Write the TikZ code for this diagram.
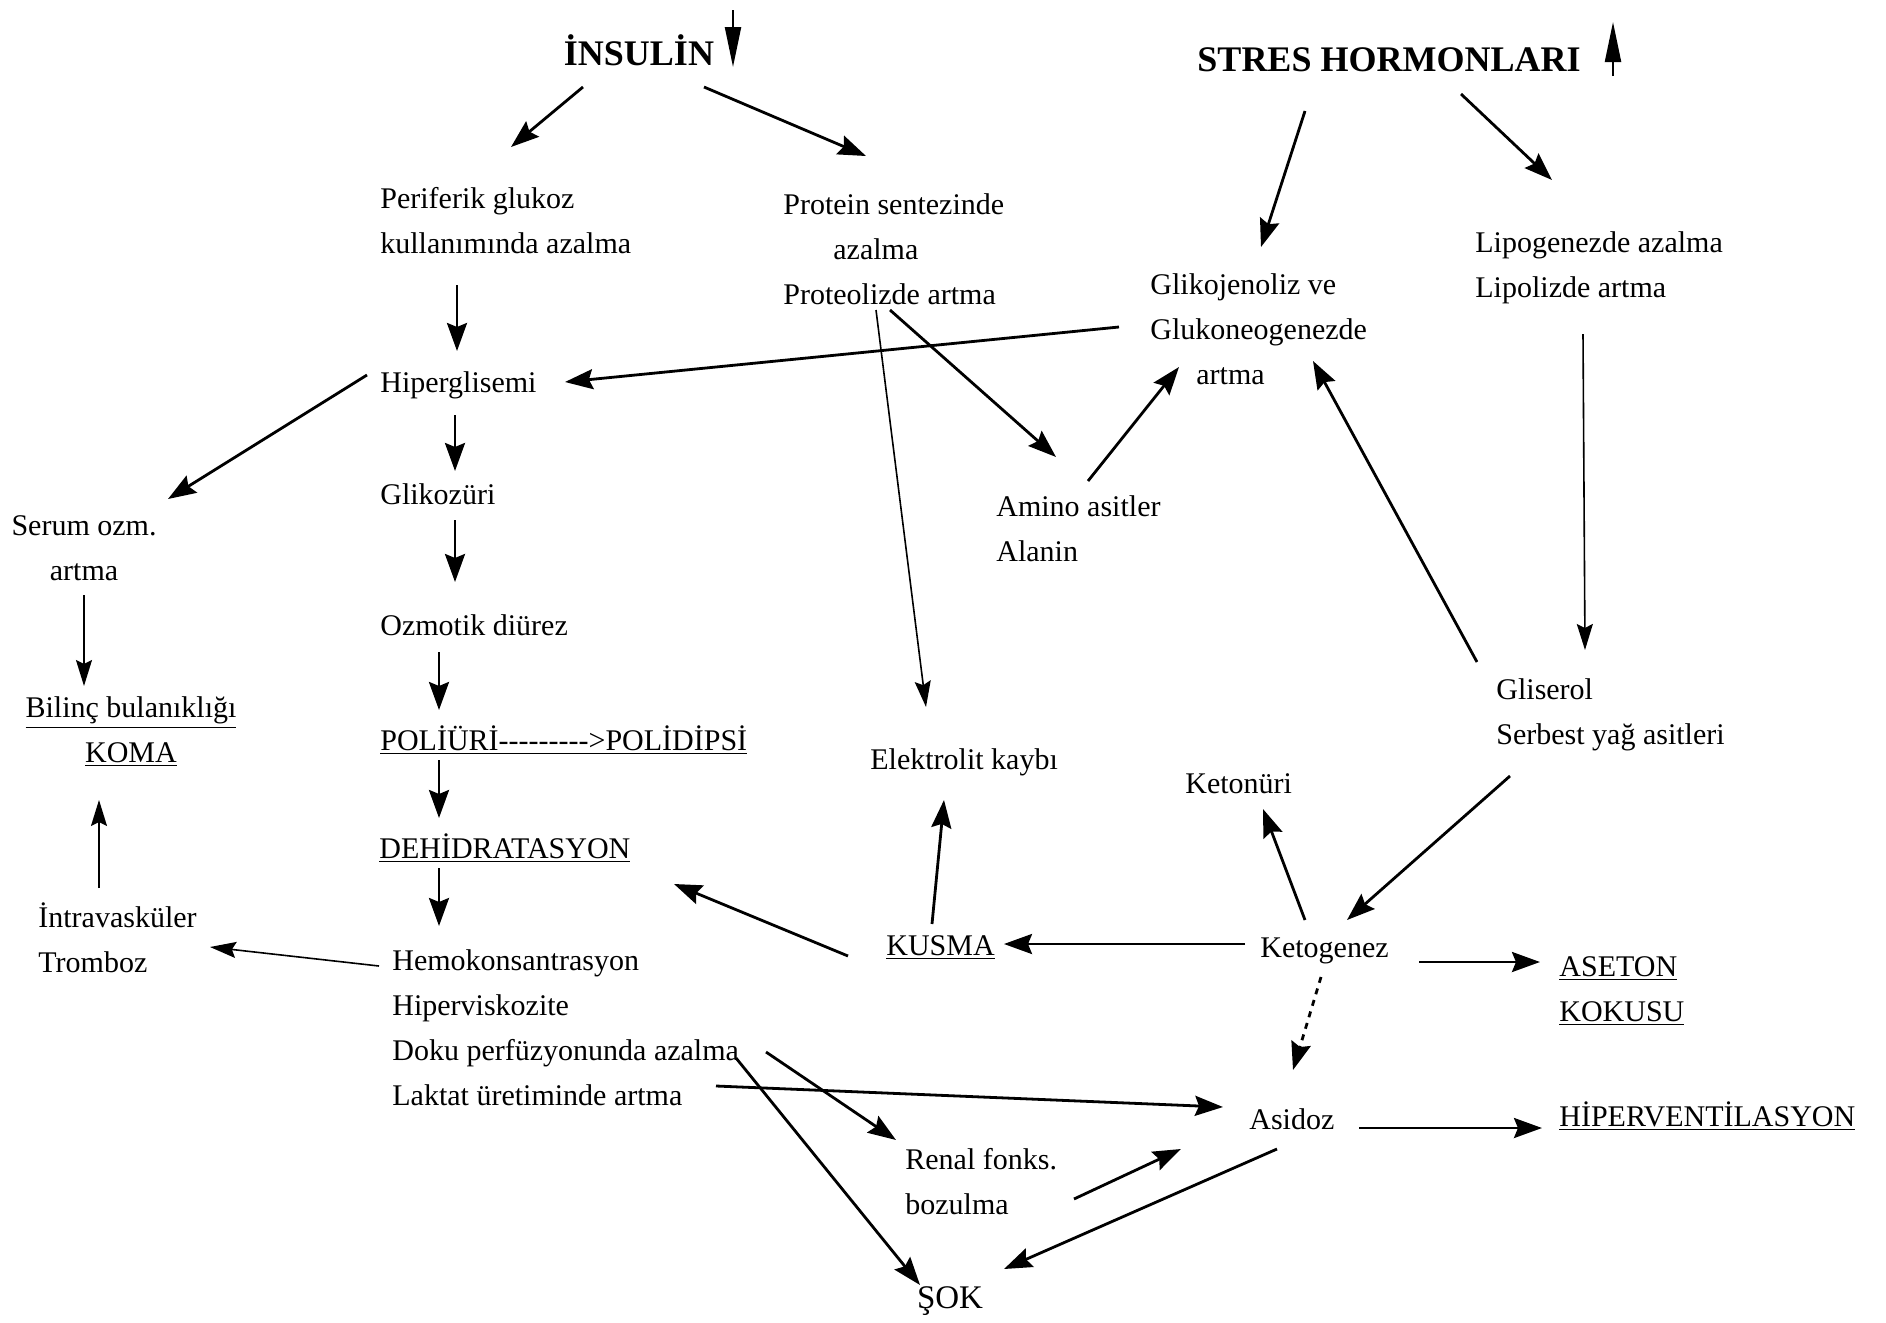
\documentclass[tikz,border=0pt]{standalone}
\usepackage{fontspec}
\setmainfont{Liberation Serif}
\usetikzlibrary{arrows.meta,calc}
\begin{document}
\begin{tikzpicture}[x=0.5pt,y=-0.5pt,
 txt/.style={inner sep=0pt, font=\fontsize{15}{22.5}\selectfont, align=left, anchor=west},
 ctxt/.style={inner sep=0pt, font=\fontsize{15}{22.5}\selectfont, align=center},
 head/.style={inner sep=0pt, font=\fontsize{18}{22}\selectfont\bfseries},
 arr/.style={line width=1.4pt, -{Stealth[length=14pt,width=10pt,inset=2pt]}},
 thinarr/.style={line width=0.8pt, -{Stealth[length=13pt,width=8pt,inset=2pt]}},
 bigtip/.style={line width=1.1pt, -{Triangle[length=20pt,width=8pt]}}]
\useasboundingbox (0,0) rectangle (1886,1323);

% headers
\node[head] (ins) at (639,50) {İNSULİN};
\node[head] (str) at (1389,60) {STRES HORMONLARI};
\draw[bigtip] ($(ins)+(94,-40)$) -- ($(ins)+(94,17)$);
\draw[bigtip] ($(str)+(224,16)$) -- ($(str)+(224,-38)$);

% nodes
\node[txt] (per) at (380,221) {Periferik glukoz\\kullanımında azalma};
\node[txt] (pro) at (783,249) {Protein sentezinde\\\hspace*{25pt}azalma\\Proteolizde artma};
\node[txt] (gli) at (1150,329) {Glikojenoliz ve\\Glukoneogenezde\\\hspace*{23pt}artma};
\node[txt] (lip) at (1475,268) {Lipogenezde azalma\\Lipolizde artma};
\node[txt] (hip) at (380,385) {Hiperglisemi};
\node[ctxt] (ser) at (84,548) {Serum ozm.\\artma};
\node[txt] (gko) at (380,494) {Glikozüri};
\node[txt] (ami) at (996,529) {Amino asitler\\Alanin};
\node[txt] (ozm) at (380,625) {Ozmotik diürez};
\node[ctxt] (bil) at (131,732) {\underline{Bilinç bulanıklığı}\\\underline{KOMA}};
\node[txt] (pol) at (380,740) {\underline{POLİÜRİ-{}-{}-{}-{}-{}-{}-{}-{}->POLİDİPSİ}};
\node[txt] (ele) at (870,762) {Elektrolit kaybı};
\node[txt] (gls) at (1496,715) {Gliserol\\Serbest yağ asitleri};
\node[txt] (ket) at (1185,784) {Ketonüri};
\node[txt] (deh) at (379,848) {\underline{DEHİDRATASYON}};
\node[txt] (int) at (38,938) {İntravasküler\\Tromboz};
\node[txt] (hem) at (392,1028) {Hemokonsantrasyon\\Hiperviskozite\\Doku perfüzyonunda azalma\\Laktat üretiminde artma};
\node[txt] (kus) at (886,948) {\underline{KUSMA}};
\node[txt] (keg) at (1260,951) {Ketogenez};
\node[txt] (ase) at (1559,991) {\underline{ASETON}\\\underline{KOKUSU}};
\node[txt] (asi) at (1249,1119) {Asidoz};
\node[txt] (hpv) at (1559,1116) {\underline{HİPERVENTİLASYON}};
\node[txt] (ren) at (905,1182) {Renal fonks.\\bozulma};
\node[ctxt, font=\fontsize{16.5}{20}\selectfont] (sok) at (950,1301) {ŞOK};

% connectors
\draw[arr] ($(ins)+(-56,37)$) -- ($(per.west)+(131,-74)$);
\draw[arr] ($(ins)+(65,37)$) -- ($(pro.west)+(83,-93)$);
\draw[arr] ($(str)+(-84,51)$) -- ($(gli.west)+(111,-82)$);
\draw[arr] ($(str)+(72,34)$) -- ($(lip.west)+(77,-88)$);
\draw[arr] ($(per.west)+(77,64)$) -- ($(hip.west)+(77,-34)$);
\draw[arr] ($(gli.west)+(-31,-2)$) -- ($(hip.west)+(185,-3)$);
\draw[arr] ($(pro.west)+(107,61)$) -- ($(ami.west)+(60,-72)$);
\draw[thinarr] ($(pro.west)+(93,61)$) -- ($(ele.west)+(56,-55)$);
\draw[arr] ($(ami.west)+(92,-48)$) -- ($(gli.west)+(29,38)$);
\draw[arr] ($(hip.west)+(-13,-10)$) -- ($(ser)+(84,-49)$);
\draw[arr] ($(hip.west)+(75,30)$) -- ($(gko.west)+(75,-23)$);
\draw[arr] ($(gko.west)+(75,26)$) -- ($(ozm.west)+(75,-43)$);
\draw[arr] ($(ozm.west)+(59,27)$) -- ($(pol.west)+(59,-30)$);
\draw[arr] ($(pol.west)+(59,20)$) -- ($(deh.west)+(60,-30)$);
\draw[arr] ($(deh.west)+(60,20)$) -- ($(hem.west)+(47,-102)$);
\draw[thinarr] ($(ser)+(0,47)$) -- ($(bil)+(-47,-46)$);
\draw[thinarr] ($(int.west)+(61,-50)$) -- ($(bil)+(-32,68)$);
\draw[thinarr] ($(hem.west)+(-13,-62)$) -- ($(int.west)+(172,9)$);
\draw[thinarr] ($(lip.west)+(108,66)$) -- ($(gls.west)+(89,-65)$);
\draw[arr] ($(gls.west)+(-19,-53)$) -- ($(gli.west)+(163,32)$);
\draw[arr] ($(gls.west)+(14,61)$) -- ($(keg.west)+(87,-31)$);
\draw[arr] ($(keg.west)+(45,-31)$) -- ($(ket.west)+(78,25)$);
\draw[arr] ($(keg.west)+(-15,-7)$) -- ($(kus.west)+(118,-4)$);
\draw[arr] ($(kus.west)+(-38,8)$) -- ($(deh.west)+(295,36)$);
\draw[arr] ($(kus.west)+(46,-24)$) -- ($(ele.west)+(74,38)$);
\draw[arr] ($(keg.west)+(159,11)$) -- ($(ase.west)+(-19,-29)$);
\draw[arr,dashed] ($(keg.west)+(61,26)$) -- ($(asi.west)+(44,-49)$);
\draw[arr] ($(asi.west)+(110,9)$) -- ($(hpv.west)+(-17,12)$);
\draw[arr] ($(hem.west)+(324,58)$) -- ($(asi.west)+(-26,-12)$);
\draw[arr] ($(hem.west)+(374,24)$) -- ($(ren.west)+(-9,-42)$);
\draw[arr] ($(hem.west)+(344,30)$) -- ($(sok)+(-30,-16)$);
\draw[arr] ($(ren.west)+(169,17)$) -- ($(asi.west)+(-68,30)$);
\draw[arr] ($(asi.west)+(28,30)$) -- ($(sok)+(54,-32)$);
\end{tikzpicture}
\end{document}
